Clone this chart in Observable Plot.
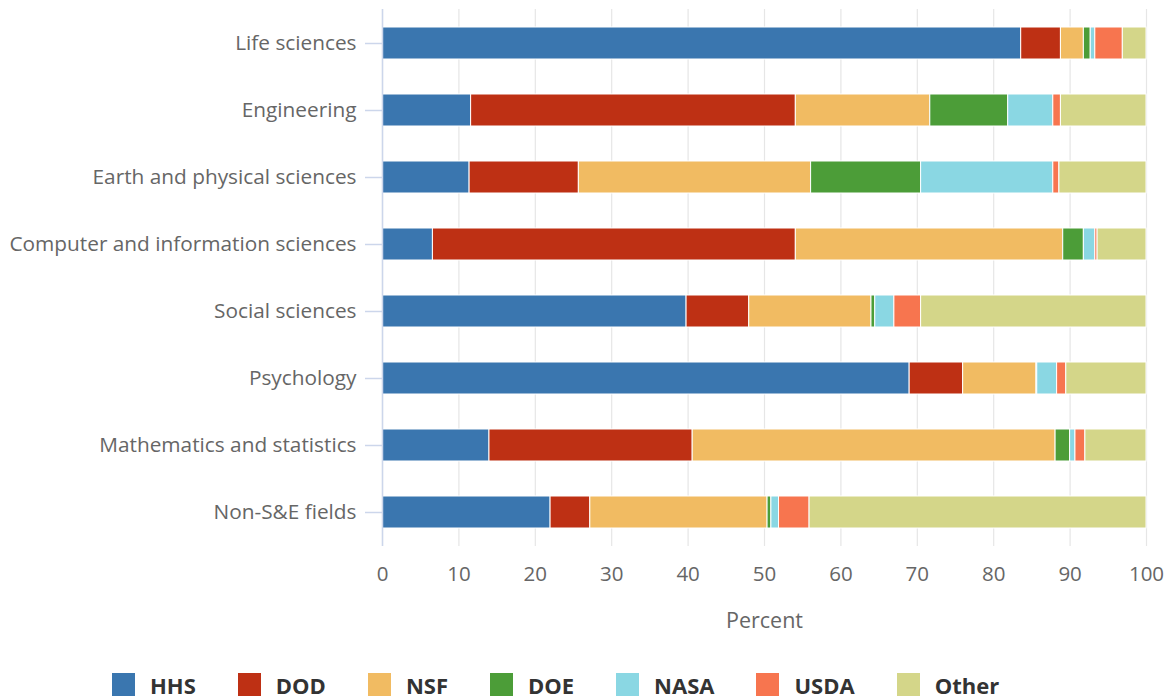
<!DOCTYPE html>
<html>
<head>
<meta charset="utf-8">
<script src="https://cdn.jsdelivr.net/npm/d3@7"></script>
<script src="https://cdn.jsdelivr.net/npm/@observablehq/plot@0.6"></script>
<style>
  html, body { margin: 0; padding: 0; background: #fff; font-family: "Open Sans", sans-serif; }
  #wrap { position: relative; width: 1171px; height: 696px; overflow: hidden; }
  #legend { position: absolute; left: 112px; top: 673px; display: flex; align-items: flex-start; }
  .item { display: flex; align-items: flex-start; margin-right: 42px; }
  .sw { width: 23px; height: 23px; margin-right: 15px; flex: none; }
  .lab { font-weight: 700; font-size: 22px; color: #333; line-height: 26px; margin-top: -1px; white-space: nowrap; }
</style>
</head>
<body>
<div id="wrap"><div id="chart"></div><div id="legend"></div></div>
<script>
const fields = ["Life sciences","Engineering","Earth and physical sciences","Computer and information sciences","Social sciences","Psychology","Mathematics and statistics","Non-S&E fields"];
const agencies = ["HHS","DOD","NSF","DOE","NASA","USDA","Other"];
const colors = ["#3a76af","#be3014","#f1bb62","#4c9d38","#8ad7e3","#f7754f","#d4d689"];
const HHS   = [83.6, 11.6, 11.4, 6.6, 39.8, 69.0, 14.0, 22.0];
const DOD   = [5.2, 42.5, 14.3, 47.5, 8.2, 7.0, 26.6, 5.2];
const NSF   = [3.0, 17.6, 30.4, 35.0, 16.0, 9.6, 47.5, 23.2];
const DOE   = [0.9, 10.2, 14.4, 2.7, 0.5, 0.1, 1.9, 0.5];
const NASA  = [0.6, 5.9, 17.3, 1.5, 2.5, 2.6, 0.7, 1.0];
const USDA  = [3.6, 1.0, 0.8, 0.3, 3.5, 1.2, 1.3, 4.0];
const Other = [3.1, 11.2, 11.4, 6.4, 29.5, 10.5, 8.0, 44.1];
const xTicks = [0,10,20,30,40,50,60,70,80,90,100];

const series = {HHS, DOD, NSF, DOE, NASA, USDA, Other};
const data = [];
fields.forEach((f, i) => agencies.forEach(a => data.push({field: f, agency: a, value: series[a][i]})));

const height = 655;
const chart = Plot.plot({
  width: 1171,
  height,
  marginLeft: 382,
  marginRight: 25,
  marginTop: 9,
  marginBottom: height - 546,
  style: {fontFamily: "'Open Sans', sans-serif", background: "#fff"},
  x: {domain: [0, 100], label: null},
  y: {domain: fields, paddingInner: 0.52, paddingOuter: 0.26, label: null},
  color: {domain: agencies, range: colors},
  marks: [
    Plot.ruleX(xTicks, {stroke: "#e6e6e6", strokeWidth: 1.2}),
    Plot.barX(data, {x: "value", y: "field", fill: "agency", stroke: "#fff", strokeWidth: 1}),
    Plot.ruleX([0], {stroke: "#ccd6eb", strokeWidth: 1.5}),
    Plot.axisX({ticks: xTicks, tickSize: 0, tickPadding: 20, fontSize: 20.5, fill: "#666", label: null}),
    Plot.axisY({tickSize: 17, tickPadding: 9, stroke: "#ccd6eb", strokeWidth: 1.5, fill: "#666", fontSize: 20.8, label: null}),
    Plot.text(["Percent"], {frameAnchor: "bottom", dy: 81, text: d => d, fontSize: 21.5, fill: "#666"})
  ]
});
document.getElementById("chart").appendChild(chart);

const leg = document.getElementById("legend");
agencies.forEach((a, i) => {
  const it = document.createElement("div");
  it.className = "item";
  const sw = document.createElement("div");
  sw.className = "sw";
  sw.style.background = colors[i];
  const lb = document.createElement("div");
  lb.className = "lab";
  lb.textContent = a;
  it.appendChild(sw); it.appendChild(lb);
  leg.appendChild(it);
});
</script>
</body>
</html>
